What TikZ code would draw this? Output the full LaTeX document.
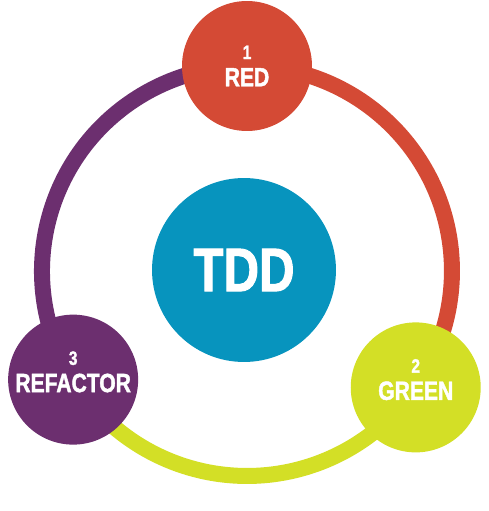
\documentclass[tikz,border=0pt]{standalone}
\usepackage{fontspec}
\setmainfont{Liberation Sans}
\newfontfamily\narrowfont[FakeStretch=0.8,FakeBold=1.6]{Liberation Sans}
\usetikzlibrary{calc,backgrounds}
\definecolor{cRed}{HTML}{D44A35}
\definecolor{cLime}{HTML}{D3DF26}
\definecolor{cPlum}{HTML}{6C2F6F}
\definecolor{cTeal}{HTML}{0794BE}
\tikzset{
  phase/.style={circle,draw=none,minimum size=2.6cm,inner sep=0pt,text=white,align=center,font=\narrowfont\bfseries\fontsize{15}{15.5}\selectfont},
  lowphase/.style={phase,text depth=9pt},
  hub/.style={circle,draw=none,fill=cTeal,minimum size=3.68cm,inner sep=0pt,text=white,font=\narrowfont\bfseries\fontsize{35}{36}\selectfont},
  ring/.style={line width=0.32cm},
}
\newcommand{\phnum}[1]{{\fontsize{11}{11}\selectfont #1}}

\begin{document}
\begin{tikzpicture}[x=0.02cm,y=0.02cm]
  \useasboundingbox (0,0) rectangle (489,511);
  \coordinate (O) at (247,240);
  \node[hub] (tdd) at (244,241) {TDD};
  \node[phase,fill=cRed]     (red)      at ($(O)+(90:205)$)    {\phnum{1}\\RED};
  \node[lowphase,fill=cLime] (green)    at ($(O)+(-34.6:205)$) {\phnum{2}\\GREEN};
  \node[lowphase,fill=cPlum] (refactor) at ($(O)+(212:205)$)   {\phnum{3}\\REFACTOR};
  \begin{scope}[on background layer]
    \draw[ring,cRed]  (red.center)      arc[start angle=90,end angle=-34.6,radius=4.1cm];
    \draw[ring,cLime] (green.center)    arc[start angle=-34.6,end angle=-148,radius=4.1cm];
    \draw[ring,cPlum] (refactor.center) arc[start angle=212,end angle=90,radius=4.1cm];
  \end{scope}
\end{tikzpicture}
\end{document}
